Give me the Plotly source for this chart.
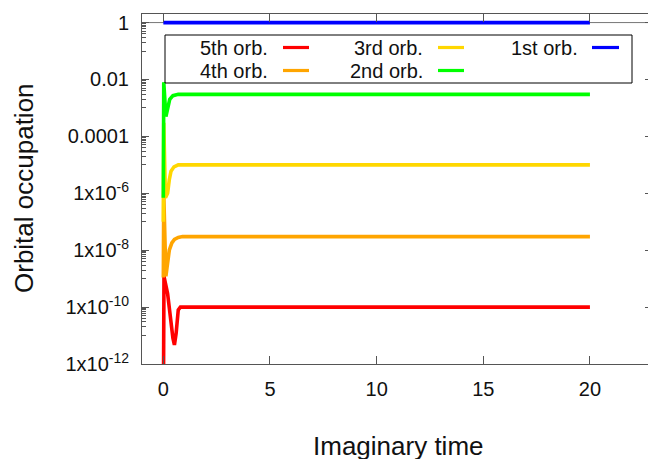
import plotly.graph_objects as go

# Imaginary-time evolution of natural-orbital occupations
t_5th = [0, 0.03, 0.2, 0.36, 0.45, 0.52, 0.6, 0.7, 0.8, 1, 20]
occ_5th = [1e-14, 1.2e-9, 3e-10, 2e-11, 8e-12, 4.7e-12, 1.2e-11, 8e-11, 1e-10, 1e-10, 1e-10]

t_4th = [0, 0.02, 0.12, 0.2, 0.28, 0.4, 0.52, 0.7, 0.9, 20]
occ_4th = [1.1e-9, 1e-6, 1.2e-9, 4e-9, 1e-8, 1.8e-8, 2.4e-8, 2.8e-8, 3e-8, 3e-8]

t_3rd = [0, 0.02, 0.1, 0.2, 0.28, 0.36, 0.5, 0.7, 1, 20]
occ_3rd = [1e-7, 3e-4, 7e-7, 1e-6, 3e-6, 6e-6, 8.5e-6, 1e-5, 1e-5, 1e-5]

t_2nd = [0, 0.02, 0.12, 0.2, 0.3, 0.45, 0.7, 1, 20]
occ_2nd = [7e-7, 8e-3, 5e-4, 1.1e-3, 2.0e-3, 2.7e-3, 3e-3, 3e-3, 3e-3]

t_1st = [0, 20]
occ_1st = [0.997, 0.997]

labels = ["5th orb.", "4th orb.", "3rd orb.", "2nd orb.", "1st orb."]
colors = ["#ff0000", "#ffa500", "#ffd700", "#00ff00", "#0000ff"]
times = [t_5th, t_4th, t_3rd, t_2nd, t_1st]
occupations = [occ_5th, occ_4th, occ_3rd, occ_2nd, occ_1st]

x_ticks = [0, 5, 10, 15, 20]
y_ticks = [1e-12, 1e-10, 1e-8, 1e-6, 1e-4, 1e-2, 1]
y_ticktext = ["1x10<sup>-12</sup>", "1x10<sup>-10</sup>", "1x10<sup>-8</sup>",
              "1x10<sup>-6</sup>", "0.0001", "0.01", "1"]
y_minor = [m * 10.0 ** e for e in (-11, -9, -7, -5, -3, -1) for m in range(1, 10)]

FONT = "Liberation Sans, Arial, sans-serif"
W, H = 648, 459
L, T, B = 142, 14, 95
PW, PH = W - L, H - T - B

fig = go.Figure()
for i, (tt, occ, lab, col) in enumerate(zip(times, occupations, labels, colors)):
    # the top curve sits on the mirrored right-hand axis (same scale)
    yax = "y2" if i == len(labels) - 1 else "y"
    fig.add_trace(go.Scatter(x=tt, y=occ, mode="lines", name=lab, yaxis=yax,
                             line=dict(color=col, width=3.6), showlegend=False))

axis_col = "#555555"
log_range = [-12, 0.30103]
fig.update_layout(
    width=W, height=H,
    margin=dict(l=L, r=0, t=T, b=B, pad=0),
    paper_bgcolor="white", plot_bgcolor="white",
    font=dict(family=FONT, size=20, color="#111111"),
    showlegend=False,
    xaxis=dict(range=[-1, -1 + PW / 21.33], tickvals=x_ticks, ticks="inside", ticklen=8,
               tickcolor=axis_col, showline=True, linecolor=axis_col, linewidth=1,
               mirror="ticks", showgrid=False, zeroline=False, automargin=False,
               ticklabelstandoff=7, tickfont=dict(size=20)),
    yaxis=dict(type="log", range=log_range, tickvals=y_ticks, ticktext=y_ticktext,
               ticks="inside", ticklen=7, tickcolor=axis_col, showline=True,
               linecolor=axis_col, linewidth=1, showgrid=False, zeroline=False,
               automargin=False, ticklabelstandoff=8, tickfont=dict(size=20),
               minor=dict(tickmode="array", tickvals=y_minor, ticks="inside",
                          ticklen=4, tickcolor=axis_col, showgrid=False)),
    yaxis2=dict(type="log", range=log_range, overlaying="y", side="right",
                tickvals=y_ticks, ticks="inside", ticklen=3, tickcolor=axis_col,
                showticklabels=False, showline=False, showgrid=False, zeroline=False,
                automargin=False),
)

def px(x):
    return (x - L) / PW

def py(y):
    return (H - B - y) / PH

# reference line at unit occupation
fig.add_shape(type="line", xref="paper", yref="y", x0=0, x1=1, y0=1, y1=1,
              line=dict(color="#777777", width=1), layer="below")

# key box
fig.add_shape(type="rect", xref="paper", yref="paper",
              x0=px(165), x1=px(632), y0=py(83), y1=py(35),
              line=dict(color="#000000", width=1))
text_right = [270, 270, 424.5, 424.5, 579.5]
sample_x = [(283, 309), (283, 309), (438, 464), (438, 464), (592, 619)]
row_y = [48, 71, 48, 71, 48]
for lab, col, xr, (sx0, sx1), ry in zip(labels, colors, text_right, sample_x, row_y):
    fig.add_annotation(xref="paper", yref="paper", x=px(xr), y=py(ry), text=lab,
                       showarrow=False, xanchor="right", yanchor="middle",
                       font=dict(family=FONT, size=20, color="#111111"))
    fig.add_shape(type="line", xref="paper", yref="paper", x0=px(sx0), x1=px(sx1),
                  y0=py(ry - 0.5), y1=py(ry - 0.5), line=dict(color=col, width=3.2))

# axis titles
fig.add_annotation(xref="paper", yref="paper", x=px(398), y=py(446),
                   text="Imaginary time", showarrow=False, xanchor="center",
                   yanchor="middle", font=dict(family=FONT, size=26, color="#111111"))
fig.add_annotation(xref="paper", yref="paper", x=px(24), y=py(188),
                   text="Orbital occupation", showarrow=False, textangle=-90,
                   xanchor="center", yanchor="middle",
                   font=dict(family=FONT, size=26, color="#111111"))

fig.write_html("out.html")
